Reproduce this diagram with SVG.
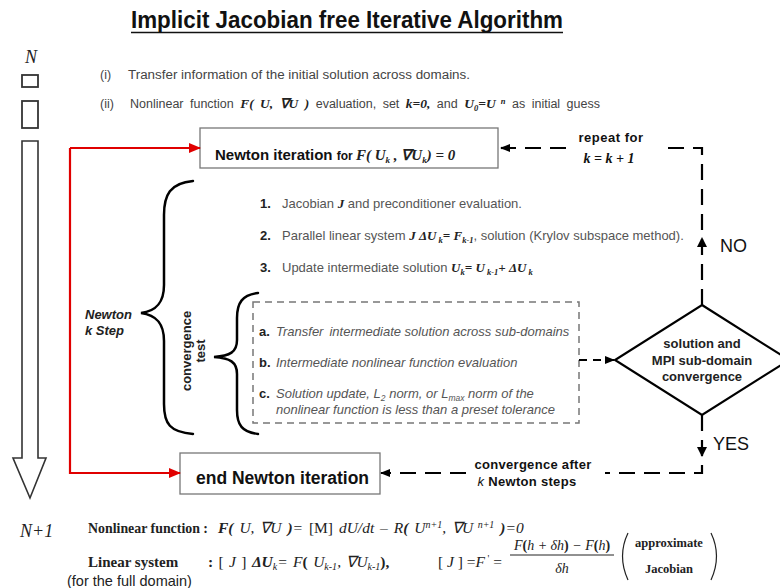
<svg xmlns="http://www.w3.org/2000/svg" width="780" height="588" viewBox="0 0 780 588">
<defs>
<style>
.sans{font-family:"Liberation Sans",Arial,sans-serif}
.serif{font-family:"Liberation Serif","Times New Roman",serif}
.box{fill:#fff;stroke:#777;stroke-width:1.3}
.dash{fill:none;stroke:#000;stroke-width:2.2;stroke-dasharray:16 9}
.brace{fill:none;stroke:#000;stroke-width:2.5;stroke-linecap:round}
.item{font-size:13px;fill:#555}
.num{font-weight:bold;fill:#222}
.mi{font-family:"Liberation Serif","Times New Roman",serif;font-weight:bold;font-style:italic;fill:#222}
.sub{font-size:8.5px}
.ital{font-style:italic}
.lbl{font-weight:bold;font-size:13px;fill:#111}
</style>
<marker id="ah" markerWidth="10" markerHeight="10" refX="9" refY="5" orient="auto" markerUnits="userSpaceOnUse"><path d="M0,1 L10,5 L0,9 Z" fill="#000"/></marker>
<marker id="ahr" markerWidth="12" markerHeight="12" refX="11" refY="6" orient="auto" markerUnits="userSpaceOnUse"><path d="M0,1 L12,6 L0,11 Z" fill="#e00000"/></marker>
</defs>
<rect width="780" height="588" fill="#fff"/>

<g id="title">
<text class="sans" x="131" y="28" font-size="23" font-weight="bold" textLength="432" lengthAdjust="spacingAndGlyphs" fill="#111">Implicit Jacobian free Iterative Algorithm</text>
<line x1="131" y1="32.5" x2="563" y2="32.5" stroke="#111" stroke-width="1.5"/>
</g>

<g id="time-axis">
<text class="serif" x="25" y="63" font-size="18" font-style="italic" fill="#222">N</text>
<rect x="22" y="75" width="16" height="12" fill="#fff" stroke="#333" stroke-width="1.8"/>
<rect x="22" y="101" width="16" height="27" fill="#fff" stroke="#333" stroke-width="1.8"/>
<path d="M22,141 L38,141 L38,458 L46,458 L30,498 L13,458 L22,458 Z" fill="#fff" stroke="#333" stroke-width="1.6"/>
<text class="serif" x="20" y="537" font-size="18" font-style="italic" fill="#222">N+1</text>
</g>

<g id="init-steps" class="sans" font-size="12.5" fill="#444">
<text x="100" y="79">(i)<tspan x="128" textLength="342" lengthAdjust="spacingAndGlyphs">Transfer information of the initial solution across domains.</tspan></text>
<text x="100" y="108" word-spacing="3">(ii)<tspan x="130">Nonlinear function </tspan><tspan class="mi" font-size="13.5">F( U, ∇U )</tspan><tspan> evaluation,  set  </tspan><tspan class="mi" font-size="13.5">k=0,</tspan><tspan> and </tspan><tspan class="mi" font-size="13.5">U</tspan><tspan class="mi" font-size="8.5" dy="3">0</tspan><tspan class="mi" font-size="13.5" dy="-3">=U</tspan><tspan class="mi" font-size="8.5" dy="-4"> n</tspan><tspan dy="4">  as initial guess</tspan></text>
</g>

<g id="newton-iteration">
<rect class="box" x="200" y="128" width="298" height="40"/>
<text class="sans" x="215" y="160" font-size="15" font-weight="bold" fill="#111">Newton iteration <tspan font-size="12">for </tspan><tspan class="mi" font-size="15">F( U</tspan><tspan class="mi" font-size="9" dy="3">k</tspan><tspan class="mi" font-size="15" dy="-3"> , ∇U</tspan><tspan class="mi" font-size="9" dy="3">k</tspan><tspan class="mi" font-size="15" dy="-3">)  =  0</tspan></text>
</g>

<g id="newton-steps">
<text class="sans item" x="260" y="208"><tspan class="num">1.</tspan><tspan x="282">Jacobian </tspan><tspan class="mi">J</tspan><tspan> and preconditioner evaluation.</tspan></text>
<text class="sans item" x="260" y="240"><tspan class="num">2.</tspan><tspan x="282">Parallel linear system </tspan><tspan class="mi">J ΔU</tspan><tspan class="mi sub" dy="3"> k</tspan><tspan class="mi" dy="-3">= F</tspan><tspan class="mi sub" dy="3">k-1</tspan><tspan dy="-3">, solution (Krylov subspace method).</tspan></text>
<text class="sans item" x="260" y="272"><tspan class="num">3.</tspan><tspan x="282">Update intermediate solution </tspan><tspan class="mi">U</tspan><tspan class="mi sub" dy="3">k</tspan><tspan class="mi" dy="-3">= U</tspan><tspan class="mi sub" dy="3"> k-1</tspan><tspan class="mi" dy="-3">+ ΔU</tspan><tspan class="mi sub" dy="3"> k</tspan></text>
</g>

<g id="newton-k-step">
<path class="brace" d="M193,181 C170,183 164,195 164,215 L164,285 C164,303 156,311 141,313 C156,315 164,323 164,341 L164,404 C164,424 170,432 193,434"/>
<text class="sans ital" x="85" y="319" font-size="13" font-weight="bold" fill="#222">Newton</text>
<text class="sans ital" x="85" y="335" font-size="13" font-weight="bold" fill="#222">k Step</text>
</g>

<g id="convergence-test">
<path class="brace" d="M258,293 C242,295 237,303 237,318 L237,340 C237,352 230,356 214,357 C230,358 237,362 237,374 L237,410 C237,425 242,432 258,434"/>
<text class="sans" transform="translate(191,351) rotate(-90)" text-anchor="middle" font-size="13" font-weight="bold" fill="#222">convergence</text>
<text class="sans" transform="translate(205,351) rotate(-90)" text-anchor="middle" font-size="13" font-weight="bold" fill="#222">test</text>
<rect x="253" y="302" width="326" height="121" fill="none" stroke="#777" stroke-width="1.5" stroke-dasharray="7 5"/>
<text class="sans item" x="259" y="336"><tspan class="num">a.</tspan><tspan class="ital" x="276">Transfer</tspan><tspan class="ital" dx="6">intermediate solution across sub-domains</tspan></text>
<text class="sans item" x="259" y="367"><tspan class="num">b.</tspan><tspan class="ital" x="276">Intermediate nonlinear function evaluation</tspan></text>
<text class="sans item" x="259" y="398"><tspan class="num">c.</tspan><tspan class="ital" x="276">Solution update,  L</tspan><tspan class="ital sub" dy="3">2</tspan><tspan class="ital" dy="-3"> norm, or L</tspan><tspan class="ital sub" dy="3">max</tspan><tspan class="ital" dy="-3"> norm of  the</tspan></text>
<text class="sans item ital" x="276" y="414">nonlinear function is less than a preset tolerance</text>
</g>

<g id="decision">
<polygon points="702,305 789,360 702,415 615,360" fill="#fff" stroke="#000" stroke-width="2.2"/>
<text class="sans" text-anchor="middle" font-size="13" font-weight="bold" fill="#222"><tspan x="702" y="348">solution and</tspan><tspan x="702" y="365">MPI sub-domain</tspan><tspan x="702" y="381">convergence</tspan></text>
</g>

<g id="end-newton">
<rect class="box" x="180" y="453" width="200" height="41"/>
<text class="sans" x="196" y="484" font-size="17.5" font-weight="bold" fill="#111">end Newton iteration</text>
</g>

<g id="connectors">
<path d="M70,148 L200,148" fill="none" stroke="#e00000" stroke-width="2.2" marker-end="url(#ahr)"/>
<path d="M70,148 L70,473 L180,473" fill="none" stroke="#e00000" stroke-width="2.2" marker-end="url(#ahr)"/>
<path class="dash" d="M702,305 L702,148 L668,148"/>
<path class="dash" d="M566,148 L501,148" marker-end="url(#ah)"/>
<path d="M702,237 L697,247 L707,247 Z" fill="#000"/>
<path class="dash" d="M702,415 L702,473 L605,473"/>
<path d="M702,457 L697,447 L707,447 Z" fill="#000"/>
<path class="dash" d="M466,473 L381,473" marker-end="url(#ah)"/>
<path d="M579,360 L614,360" fill="none" stroke="#000" stroke-width="2" stroke-dasharray="8 6" marker-end="url(#ah)"/>
</g>

<g id="connector-labels">
<text class="sans lbl" x="611" y="142" text-anchor="middle" letter-spacing="0.5">repeat for</text>
<text class="serif" x="609" y="163" text-anchor="middle" font-size="14" font-weight="bold" font-style="italic" fill="#111">k = k + 1</text>
<text class="sans" x="720" y="252" font-size="18" fill="#111">NO</text>
<text class="sans" x="713" y="450" font-size="18" fill="#111">YES</text>
<text class="sans lbl" x="533" y="469" text-anchor="middle" letter-spacing="0.3">convergence after</text>
<text class="sans lbl" x="527" y="486" text-anchor="middle" letter-spacing="0.3"><tspan font-style="italic" font-weight="normal">k</tspan> Newton steps</text>
</g>

<g id="equations" class="serif" fill="#222">
<text x="88" y="533" font-size="14.5" font-weight="bold" textLength="120" lengthAdjust="spacingAndGlyphs">Nonlinear function :</text>
<text x="218" y="533" font-size="15.5" font-style="italic" word-spacing="2"><tspan font-weight="bold">F(</tspan> U,  ∇U <tspan font-weight="bold">)</tspan>= <tspan font-style="normal">[M]</tspan> dU/dt – R<tspan font-weight="bold">(</tspan> U<tspan font-size="10" dy="-5">n+1</tspan><tspan dy="5">,  ∇U</tspan><tspan font-size="10" dy="-5"> n+1</tspan><tspan dy="5" font-weight="bold"> )</tspan>=0</text>
<text x="88" y="567" font-size="15" font-weight="bold">Linear system</text>
<text class="sans" x="67" y="586" font-size="14.5">(for the full domain)</text>
<text x="208" y="567" font-size="15.5" word-spacing="1.5"><tspan font-weight="bold">:</tspan>  [ <tspan font-style="italic">J</tspan> ] <tspan font-weight="bold" font-style="italic">ΔU</tspan><tspan font-size="10" font-style="italic" dy="3">k</tspan><tspan dy="-3" font-style="italic">= F</tspan><tspan font-weight="bold">(</tspan><tspan font-style="italic"> U</tspan><tspan font-size="10" font-style="italic" dy="3">k-1</tspan><tspan dy="-3" font-style="italic">,  ∇U</tspan><tspan font-size="10" font-style="italic" dy="3">k-1</tspan><tspan dy="-3" font-weight="bold">),</tspan></text>
<text x="438" y="567" font-size="15.5">[ <tspan font-style="italic">J</tspan> ] =<tspan font-style="italic">F</tspan><tspan font-size="10" dy="-5"> '</tspan><tspan dy="5"> =</tspan></text>
<text x="562" y="550" font-size="14" font-style="italic" text-anchor="middle">F<tspan font-weight="bold" font-style="normal">(</tspan>h + δh<tspan font-weight="bold" font-style="normal">)</tspan> − F<tspan font-weight="bold" font-style="normal">(</tspan>h<tspan font-weight="bold" font-style="normal">)</tspan></text>
<line x1="510" y1="555" x2="614" y2="555" stroke="#222" stroke-width="1"/>
<text x="562" y="573" font-size="14" font-style="italic" text-anchor="middle">δh</text>
<path d="M628,533 Q617,556 628,580" fill="none" stroke="#222" stroke-width="1.2"/>
<path d="M711,533 Q722,556 711,580" fill="none" stroke="#222" stroke-width="1.2"/>
<text x="669" y="547" font-size="12.5" font-weight="bold" text-anchor="middle">approximate</text>
<text x="669" y="573" font-size="12.5" font-weight="bold" text-anchor="middle">Jacobian</text>
</g>
</svg>
